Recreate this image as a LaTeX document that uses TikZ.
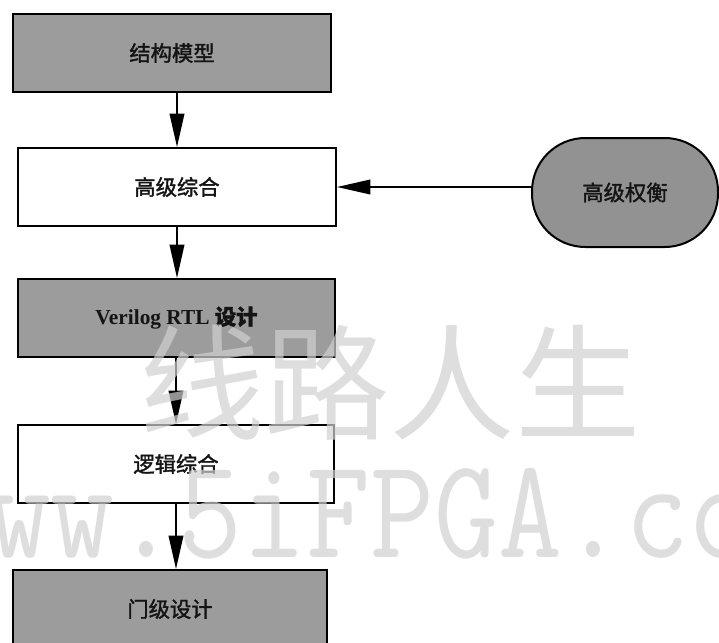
\documentclass[tikz,border=0pt]{standalone}
\usepackage{fontspec}
\setmainfont{Liberation Serif}
\newfontfamily\cjk[FakeBold=1.6]{Noto Sans CJK SC}
\newfontfamily\cjkwm{Noto Sans CJK SC}
\usetikzlibrary{arrows.meta}
\definecolor{boxgray}{RGB}{156,156,156}
\definecolor{ovalgray}{RGB}{146,146,146}
\definecolor{wmgray}{RGB}{208,208,208}
\definecolor{txt}{RGB}{20,20,20}
\tikzset{
  stepbox/.style={draw=black, line width=1.5pt, minimum height=58.5pt, inner sep=0pt,
    text=txt, font=\fontsize{16}{18}\selectfont},
  graybox/.style={stepbox, fill=boxgray},
  whitebox/.style={stepbox, fill=white},
  oval/.style={draw=black, line width=1.5pt, fill=ovalgray, rounded corners=40pt,
    minimum width=139.5pt, minimum height=81.75pt, inner sep=0pt, text=txt,
    font=\fontsize{16}{18}\selectfont},
  arr/.style={line width=1.2pt, -{Triangle[length=25pt,width=11pt]}},
  wm/.style={text=wmgray, text opacity=0.7, inner sep=0pt}
}
\begin{document}
\begin{tikzpicture}[x=0.75pt, y=-0.75pt]
\useasboundingbox (0,0) rectangle (719,643);
\clip (0,0) rectangle (719,643);
\fill[white] (0,0) rectangle (719,643);

\node[graybox, minimum width=238.5pt] (b1) at (172,53) {\cjk 结构模型};
\node[whitebox, minimum width=238.5pt] (b2) at (177,187) {\cjk 高级综合};
\node[graybox, minimum width=237.75pt] (b3) at (176.5,318) {\bfseries Verilog RTL {\cjk 设计}};
\node[whitebox, minimum width=237pt] (b4) at (176,464) {\cjk 逻辑综合};
\node[graybox, minimum width=235.5pt] (b5) at (170,609) {\cjk 门级设计};
\node[oval] (t) at (625,192.5) {\cjk 高级权衡};

\draw[arr] (b1.south -| b2.center) -- (b2.north);
\draw[arr] (b2.south) -- (b2.south |- b3.north);
\draw[arr] (b3.south -| b4.north) -- (b4.north);
\draw[arr] (b4.south) -- (b4.south |- b5.north);
\draw[arr] (t.west |- b2.east) -- (b2.east);

\node[wm, font=\cjkwm\fontsize{94}{94}\selectfont] (wm1) at (390,383) {线路人生};
\node[wm, font=\ttfamily\fontsize{93}{94}\selectfont, anchor=base west, yscale=1.15, transform shape] (wm2) at (-77,557) {www.5iFPGA.com};
\end{tikzpicture}
\end{document}
